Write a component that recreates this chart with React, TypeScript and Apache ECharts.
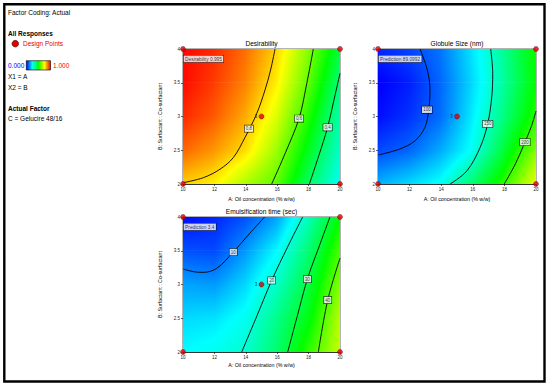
import React, { useEffect, useRef } from 'react';
import * as echarts from 'echarts';

const FONT = '"Liberation Sans", Arial, sans-serif';

// Axes
const xTicks = [10, 12, 14, 16, 18, 20];
const yTicks = [2, 2.5, 3, 3.5, 4];

// Response values read at (xTicks, yTicks); rows follow yTicks (bottom -> top)
const desirabilityGrid = [
  [0.797, 0.76, 0.665, 0.585, 0.4, 0.26],
  [0.9, 0.85, 0.78, 0.65, 0.47, 0.3],
  [0.96, 0.91, 0.83, 0.71, 0.53, 0.33],
  [0.99, 0.94, 0.87, 0.76, 0.59, 0.38],
  [0.995, 0.96, 0.89, 0.79, 0.63, 0.44],
];
const globuleGrid = [
  [122, 132, 143, 170, 200, 238],
  [97, 104, 121, 143, 180, 216],
  [83, 92, 106, 137, 166, 198],
  [79, 87, 105, 132, 160, 190],
  [89, 96, 108, 135, 162, 192],
];
const emulsificationGrid = [
  [17, 18, 20.3, 27, 37, 46.7],
  [15, 15.5, 18, 25, 33, 45.5],
  [12, 11.5, 15, 21, 30, 42.4],
  [7.5, 7, 11.5, 17, 26.5, 38.5],
  [3.4, 5, 7.5, 12, 21.8, 33.8],
];

// Colour scale breakpoints (blue, cyan, green, yellow, red)
const desirabilityStops = [0, 0.25, 0.5, 0.75, 1];
const globuleStops = [80, 140, 190, 240, 290];
const emulsificationStops = [3, 17, 34, 50, 65];
const scaleColors = [[0, 0, 255], [0, 255, 255], [0, 255, 0], [255, 255, 0], [255, 0, 0]];

// Contour lines: [level label, points]
const desirabilityContours: [string, number[][]][] = [
  ['0.8', [[10.02, 2.02], [11.3, 2.094], [12.36, 2.22], [13.2, 2.39], [13.95, 2.69], [14.69, 3.04], [15.22, 3.39], [15.58, 3.69], [15.86, 4]]],
  ['0.6', [[15.65, 2], [16.5, 2.45], [17.39, 2.97], [17.85, 3.45], [18.3, 4]]],
  ['0.4', [[18.05, 2], [18.65, 2.42], [19.21, 2.84], [19.6, 3.23], [20, 3.64]]],
];
const desirabilityLabels = [[14.2, 2.82, '0.8'], [17.39, 2.97, '0.6'], [19.21, 2.84, '0.4']];

const globuleContours: [string, number[][]][] = [
  ['100', [[12.66, 4], [13.12, 3.69], [13.29, 3.39], [13.21, 3.1], [12.97, 2.84], [12.34, 2.64], [11.39, 2.52], [10.02, 2.43]]],
  ['150', [[17.13, 4], [17.26, 3.64], [17.2, 3.29], [16.94, 2.89], [16.46, 2.54], [15.61, 2.19], [14.56, 2]]],
  ['200', [[17.99, 2], [18.7, 2.3], [19.3, 2.62], [19.7, 2.85], [20, 3.08]]],
];
const globuleLabels = [[13.1, 3.1, '100'], [16.94, 2.89, '150'], [19.3, 2.62, '200']];

const emulsificationContours: [string, number[][]][] = [
  ['10', [[10.02, 3.23], [10.66, 3.19], [11.29, 3.18], [12.15, 3.24], [13.2, 3.48], [14.26, 3.76], [15.2, 4]]],
  ['20', [[13.74, 2], [14.7, 2.53], [15.65, 3.06], [16.65, 3.55], [17.62, 4]]],
  ['30', [[16.67, 2], [17.3, 2.55], [17.92, 3.08], [18.65, 3.55], [19.36, 4]]],
  ['40', [[18.62, 2], [19.22, 2.77], [20, 3.39]]],
];
const emulsificationLabels = [[13.2, 3.48, '10'], [15.65, 3.06, '20'], [17.92, 3.08, '30'], [19.22, 2.77, '40']];

const designPoints = [[10, 2], [10, 4], [20, 2], [20, 4], [15, 3]];
const centerReplicates = '3';

const predictions = ['Desirability 0.995', 'Prediction 89.0992', 'Prediction 3.4'];
const titles = ['Desirability', 'Globule Size (nm)', 'Emulsification time (sec)'];
const xName = 'A: Oil concentration (% w/w)';
const yName = 'B: Surfactant : Co-surfactant';

function rgb(c: number[]) {
  return `rgb(${Math.round(c[0])},${Math.round(c[1])},${Math.round(c[2])})`;
}
function colorAt(v: number, stops: number[]) {
  if (v <= stops[0]) return rgb(scaleColors[0]);
  for (let k = 0; k < stops.length - 1; k++) {
    if (v <= stops[k + 1]) {
      const t = (v - stops[k]) / (stops[k + 1] - stops[k]);
      const a = scaleColors[k], b = scaleColors[k + 1];
      return rgb([a[0] + (b[0] - a[0]) * t, a[1] + (b[1] - a[1]) * t, a[2] + (b[2] - a[2]) * t]);
    }
  }
  return rgb(scaleColors[scaleColors.length - 1]);
}
function gradientFor(vl: number, vr: number, stops: number[]) {
  const cs: { offset: number; color: string }[] = [{ offset: 0, color: colorAt(vl, stops) }];
  if (Math.abs(vr - vl) > 1e-9) {
    stops.forEach((s, k) => {
      const o = (s - vl) / (vr - vl);
      if (o > 0 && o < 1) cs.push({ offset: o, color: rgb(scaleColors[k]) });
    });
  }
  cs.push({ offset: 1, color: colorAt(vr, stops) });
  cs.sort((a, b) => a.offset - b.offset);
  return new echarts.graphic.LinearGradient(0, 0, 1, 0, cs);
}

function surfaceSeries(gi: number, values: number[][], stops: number[]) {
  const cells: number[][] = [];
  for (let j = 0; j < yTicks.length - 1; j++)
    for (let i = 0; i < xTicks.length - 1; i++)
      cells.push([(xTicks[i] + xTicks[i + 1]) / 2, (yTicks[j] + yTicks[j + 1]) / 2, i, j]);
  return {
    type: 'custom',
    xAxisIndex: gi,
    yAxisIndex: gi,
    silent: true,
    z: 1,
    encode: { x: 0, y: 1 },
    data: cells,
    renderItem: (params: any, api: any) => {
      const i = api.value(2), j = api.value(3);
      const p0 = api.coord([xTicks[i], yTicks[j]]);
      const p1 = api.coord([xTicks[i + 1], yTicks[j + 1]]);
      const left = p0[0], right = p1[0], bottom = p0[1], top = p1[1];
      const v00 = values[j][i], v10 = values[j][i + 1], v01 = values[j + 1][i], v11 = values[j + 1][i + 1];
      const h = bottom - top;
      const n = Math.max(1, Math.ceil(h / 1.2));
      const extW = i < xTicks.length - 2 ? 0.6 : 0;
      const children: any[] = [];
      for (let k = 0; k < n; k++) {
        const t = (k + 0.5) / n;
        const vl = v00 + (v01 - v00) * t;
        const vr = v10 + (v11 - v10) * t;
        const yTop = bottom - ((k + 1) / n) * h;
        const ext = k < n - 1 || j < yTicks.length - 2 ? 0.6 : 0;
        children.push({
          type: 'rect',
          shape: { x: left, y: yTop - ext, width: right - left + extW, height: h / n + ext + (k === 0 ? 0 : 0.3) },
          style: { fill: gradientFor(vl, vr, stops) },
        });
      }
      return { type: 'group', children };
    },
  };
}

function contourSeries(gi: number, contours: [string, number[][]][], labels: any[]) {
  const out: any[] = contours.map(([name, pts]) => ({
    type: 'line',
    name,
    xAxisIndex: gi,
    yAxisIndex: gi,
    data: pts,
    smooth: 0.35,
    symbol: 'none',
    silent: true,
    z: 3,
    lineStyle: { color: '#000', width: 0.9 },
  }));
  out.push({
    type: 'scatter',
    xAxisIndex: gi,
    yAxisIndex: gi,
    data: labels,
    symbolSize: 0,
    silent: true,
    z: 4,
    label: {
      show: true,
      position: 'inside',
      formatter: (p: any) => p.value[2],
      fontSize: 4.5,
      fontFamily: FONT,
      color: '#000',
      backgroundColor: '#fff',
      borderColor: '#000',
      borderWidth: 0.6,
      padding: [1, 1.2, 0.6, 1.2],
    },
  });
  return out;
}

function pointSeries(gi: number, flag: string) {
  return [
    {
      type: 'scatter',
      xAxisIndex: gi,
      yAxisIndex: gi,
      data: designPoints.map((p, k) => ({
        value: p,
        label: k === 4 ? { show: true, formatter: centerReplicates, position: 'left', distance: 1.5, fontSize: 4.5, fontFamily: FONT, color: '#000' } : { show: false },
      })),
      symbolSize: 5,
      clip: false,
      silent: true,
      z: 6,
      itemStyle: { color: '#e00000', borderColor: '#5a0000', borderWidth: 0.5 },
    },
    {
      type: 'scatter',
      xAxisIndex: gi,
      yAxisIndex: gi,
      data: [[10, 4]],
      symbolSize: 0,
      silent: true,
      z: 5,
      label: {
        show: true,
        position: [0.6, 6.6],
        formatter: flag,
        fontSize: 4.8,
        fontFamily: FONT,
        color: '#000',
        backgroundColor: '#fff',
        borderColor: '#000',
        borderWidth: 0.6,
        padding: [1, 1.5, 0.6, 1.5],
      },
    },
  ];
}

const grids = [
  { left: 183, top: 49, width: 157, height: 135 },
  { left: 378, top: 49, width: 158, height: 135 },
  { left: 183, top: 217, width: 157, height: 135 },
];
const xNameGaps = [12, 12, 10.5];

export default function App() {
  const ref = useRef<HTMLDivElement>(null);
  useEffect(() => {
    if (!ref.current) return;
    const chart = echarts.init(ref.current, undefined, { renderer: 'svg' });
    const xAxes = grids.map((_, gi) => ({
      gridIndex: gi,
      type: 'value',
      min: 10,
      max: 20,
      interval: 2,
      name: xName,
      nameLocation: 'middle',
      nameGap: xNameGaps[gi],
      nameTextStyle: { fontSize: 5.3, color: '#000', fontFamily: FONT },
      axisLine: { show: true, onZero: false, lineStyle: { color: '#000', width: 0.7 } },
      axisTick: { show: true, length: 2, lineStyle: { color: '#000', width: 0.6 } },
      axisLabel: { fontSize: 4.5, color: '#222', margin: 3, fontFamily: FONT },
      splitLine: { show: false },
    }));
    const yAxes = grids.map((_, gi) => ({
      gridIndex: gi,
      type: 'value',
      min: 2,
      max: 4,
      interval: 0.5,
      name: yName,
      nameLocation: 'middle',
      nameGap: 21,
      nameRotate: 90,
      nameTextStyle: { fontSize: 5.3, color: '#000', fontFamily: FONT },
      axisLine: { show: true, onZero: false, lineStyle: { color: '#000', width: 0.7 } },
      axisTick: { show: true, length: 2, lineStyle: { color: '#000', width: 0.6 } },
      axisLabel: { fontSize: 4.5, color: '#222', margin: 3, fontFamily: FONT },
      splitLine: { show: false },
    }));
    const series: any[] = [
      surfaceSeries(0, desirabilityGrid, desirabilityStops),
      surfaceSeries(1, globuleGrid, globuleStops),
      surfaceSeries(2, emulsificationGrid, emulsificationStops),
      ...contourSeries(0, desirabilityContours, desirabilityLabels),
      ...contourSeries(1, globuleContours, globuleLabels),
      ...contourSeries(2, emulsificationContours, emulsificationLabels),
      ...pointSeries(0, predictions[0]),
      ...pointSeries(1, predictions[1]),
      ...pointSeries(2, predictions[2]),
    ];
    const txt = (text: string, x: number, y: number, extra: any = {}) => ({
      type: 'text',
      x,
      y,
      style: { text, fontSize: 6.5, fontFamily: FONT, fill: '#000', verticalAlign: 'middle', ...extra },
      silent: true,
    });
    const titlePos = [[261.5, 43], [457, 43], [261.5, 211.5]];
    chart.setOption({
      animation: false,
      backgroundColor: '#fff',
      grid: grids.map((g) => ({ ...g, show: true, borderColor: '#000', borderWidth: 0.6, backgroundColor: 'transparent' })),
      xAxis: xAxes,
      yAxis: yAxes,
      series,
      graphic: [
        { type: 'rect', shape: { x: 4.3, y: 4.3, width: 540.2, height: 377.2 }, style: { fill: 'none', stroke: '#000', lineWidth: 2.4 }, silent: true, z: 100 },
        txt('Factor Coding: Actual', 8, 12),
        txt('All Responses', 8, 33.5, { fontWeight: 'bold' }),
        { type: 'circle', shape: { cx: 15.3, cy: 43.7, r: 3.3 }, style: { fill: '#e00000', stroke: '#400', lineWidth: 0.6 }, silent: true },
        txt('Design Points', 23, 43.7, { fill: '#e60000' }),
        txt('0.000', 8, 65, { fill: '#0000ff' }),
        {
          type: 'rect',
          shape: { x: 26.3, y: 60.7, width: 24.2, height: 9.3 },
          style: {
            fill: new echarts.graphic.LinearGradient(0, 0, 1, 0, scaleColors.map((c, k) => ({ offset: k / 4, color: rgb(c) }))),
            stroke: '#000',
            lineWidth: 0.6,
          },
          silent: true,
        },
        txt('1.000', 53, 65, { fill: '#ff0000' }),
        txt('X1 = A', 8, 76),
        txt('X2 = B', 8, 87),
        txt('Actual Factor', 8, 108.3, { fontWeight: 'bold' }),
        txt('C = Gelucire 48/16', 8, 118.7),
        ...titles.map((t, k) => txt(t, titlePos[k][0], titlePos[k][1], { textAlign: 'center', fontSize: 6.6 })),
      ],
    });
    return () => chart.dispose();
  }, []);
  return <div ref={ref} style={{ position: 'fixed', left: 0, top: 0, width: 550, height: 387, background: '#fff' }} />;
}
